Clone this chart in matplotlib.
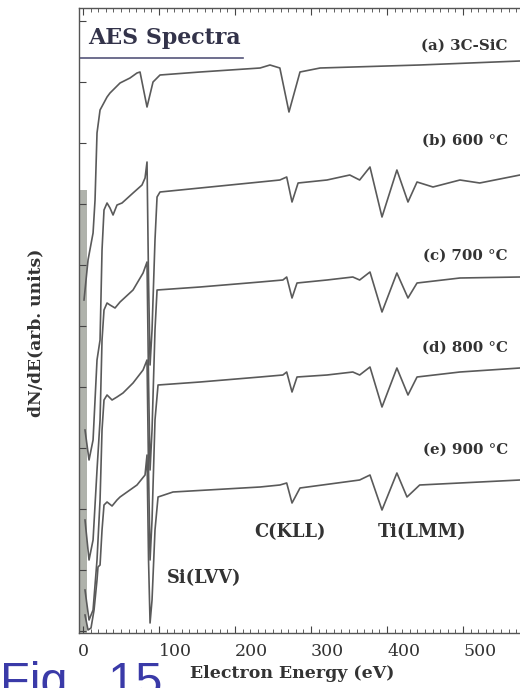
import matplotlib
matplotlib.use("Agg")
import matplotlib.pyplot as plt
from matplotlib.ticker import MultipleLocator, FixedLocator

# ---- data (x: electron energy in eV, y: dN/dE in arb. units) ----
E_a = [1.3, 6.6, 13.2, 15.8, 18.4, 22.4, 31.6, 35.5, 48.7, 61.8, 71, 75, 84.2, 92.1, 101.3,
       154, 233, 246, 259, 271, 285.5, 312, 443, 575]
Y_a = [333, 373, 400, 433, 500, 523, 536, 540, 550, 555, 560, 561, 526, 551, 558,
       561, 565, 568, 565, 521, 561, 565, 568, 572]

E_b = [2.6, 7.9, 13.2, 18.4, 22.4, 25, 27.6, 31.6, 35.5, 39.5, 44.7, 51.3, 65.8, 77.6, 81.6,
       84.2, 86.2, 88.2, 90.8, 94.7, 97.4, 101.3, 154, 233, 259, 268, 275, 283, 321, 351,
       364, 377.6, 393.4, 413, 427.6, 439.5, 460.5, 496, 522, 575]
Y_b = [203, 173, 193, 273, 293, 383, 423, 430, 425, 418, 428, 430, 440, 448, 455,
       471, 353, 268, 303, 393, 436, 441, 445, 451, 453, 456, 431, 450, 453, 458,
       453, 466, 416, 463, 431, 451, 446, 453, 450, 458]

E_c = [2.6, 7.9, 13.2, 18.4, 22.4, 25, 27.6, 31.6, 35.5, 42.1, 48.7, 65.8, 79, 84.2, 86.2,
       88.2, 90.8, 94.7, 97.4, 154, 233, 263, 268, 275, 281.6, 321, 355, 364, 377.6, 393.4,
       413, 427.6, 439.5, 496, 575]
Y_c = [113, 73, 93, 163, 213, 293, 323, 330, 328, 325, 331, 343, 360, 371, 253,
       163, 203, 303, 343, 346, 351, 353, 356, 335, 350, 353, 356, 353, 361, 321,
       360, 335, 350, 355, 356]

E_d = [2.6, 7.9, 13.2, 18.4, 22.4, 25, 27.6, 31.6, 38.2, 44.7, 52.6, 65.8, 79, 84.2, 86.2,
       88.2, 90.8, 94.7, 98.7, 154, 233, 263, 268, 275, 281.6, 321, 355, 364, 377.6, 393.4,
       413, 427.6, 439.5, 496, 575]
Y_d = [43, 13, 23, 73, 133, 203, 233, 238, 233, 236, 240, 250, 263, 273, 163,
       73, 113, 213, 248, 251, 256, 258, 261, 241, 256, 258, 261, 258, 266, 226,
       265, 238, 256, 261, 265]

E_e = [2.6, 6.6, 10.5, 14.5, 18.4, 19.7, 22.4, 25, 27.6, 31.6, 38.2, 44.7, 48.7, 71, 81.6,
       84.2, 86.2, 88.2, 90.8, 94.7, 98.7, 118.4, 233, 259, 268, 275, 285.5, 364, 377.6, 393.4,
       413, 426.3, 443, 575]
Y_e = [18, 3, 5, 23, 53, 66, 68, 103, 128, 131, 127, 133, 136, 148, 158,
       178, 73, 10, 33, 103, 136, 141, 146, 148, 150, 130, 145, 153, 158, 123,
       160, 136, 148, 153]

spectra_labels = ["(a) 3C-SiC", "(b) 600 °C", "(c) 700 °C", "(d) 800 °C", "(e) 900 °C"]
label_y = [587, 492, 377, 285, 183]

peak_labels = ["Si(LVV)", "C(KLL)", "Ti(LMM)"]
peak_x = [159, 272, 446]
peak_y = [55, 101, 101]

x_ticks = [0, 100, 200, 300, 400, 500]
x_ticklabels = ["0", "100", "200", "300", "400", "500"]

# ---- figure ----
fig = plt.figure(figsize=(5.2, 6.88), dpi=100)
ax = fig.add_axes([79 / 520, 1 - 633 / 688, 1 - 79 / 520, (633 - 8) / 688])

ax.set_xlim(-5.3, 575)
ax.set_ylim(0, 625)

# dark strip of overlapping low-energy tails along the left edge
ax.axvspan(-4.5, 5.5, ymin=0, ymax=(633 - 190) / 625, color="#7a7f74", alpha=0.6, lw=0)

line_color = "#5a5a5a"
for E, Y in [(E_a, Y_a), (E_b, Y_b), (E_c, Y_c), (E_d, Y_d), (E_e, Y_e)]:
    ax.plot(E, Y, color=line_color, lw=1.2, solid_joinstyle="round")

serif = ["DejaVu Serif"]
for txt, yy in zip(spectra_labels, label_y):
    ax.text(559, yy, txt, ha="right", va="center", fontsize=10.8, fontweight="bold",
            family=serif, color="#333333")
for txt, xx, yy in zip(peak_labels, peak_x, peak_y):
    ax.text(xx, yy, txt, ha="center", va="center", fontsize=12.8, fontweight="bold",
            family=serif, color="#333333")

ax.text(6.6, 595, "AES Spectra", ha="left", va="center", fontsize=15.9, fontweight="bold",
        family=serif, color="#33334a")
ax.plot([-5.3, 210], [575, 575], color="#55557a", lw=1.2)

# ticks
ax.xaxis.set_major_locator(FixedLocator(x_ticks))
ax.xaxis.set_minor_locator(MultipleLocator(10))
ax.yaxis.set_major_locator(MultipleLocator(61, offset=2))
ax.tick_params(axis="x", which="both", direction="in", top=True, bottom=True, colors="#444444")
ax.tick_params(axis="x", which="major", length=5, width=0.8, labelsize=12.5, pad=7)
ax.tick_params(axis="x", which="minor", length=3, width=0.6)
ax.tick_params(axis="y", which="major", direction="in", length=5, width=0.8,
               labelleft=False, colors="#444444")
ax.set_xticklabels(x_ticklabels, family=serif, color="#333333")
for lab in ax.get_xticklabels():
    if lab.get_text() != "0":
        lab.set_horizontalalignment("left")

for s in ["left", "top", "bottom"]:
    ax.spines[s].set_color("#555555")
    ax.spines[s].set_linewidth(1.0)
ax.spines["right"].set_visible(False)

fig.text(292 / 520, 1 - 673 / 688, "Electron Energy (eV)", ha="center", va="center",
         fontsize=12.5, fontweight="bold", family=serif, color="#333333")
fig.text(36 / 520, 1 - 333 / 688, "dN/dE(arb. units)", ha="center", va="center",
         rotation=90, fontsize=12.3, fontweight="bold", family=serif, color="#333333")
fig.text(0.0, 1 - 661 / 688, "Fig.  15", ha="left", va="top", fontsize=35,
         family=["Liberation Sans", "DejaVu Sans"], color="#3a3aa8")

fig.savefig("out.png", dpi=100, facecolor="white")
